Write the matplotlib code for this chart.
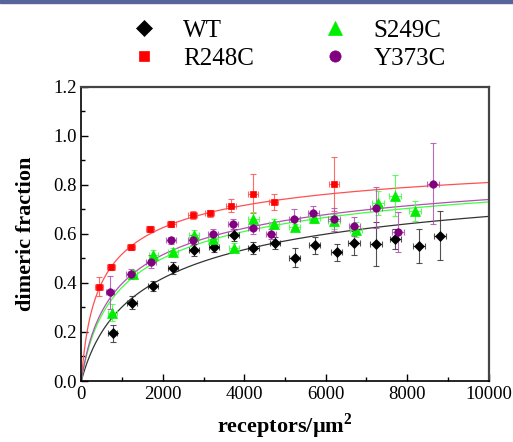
import numpy as np
import matplotlib
matplotlib.use('Agg')
import matplotlib.pyplot as plt
from matplotlib.patches import Rectangle
from matplotlib.ticker import MultipleLocator

plt.rcParams['font.family'] = 'Liberation Serif'
plt.rcParams['mathtext.fontset'] = 'custom'
plt.rcParams['mathtext.rm'] = 'Liberation Serif'
plt.rcParams['mathtext.bf'] = 'Liberation Serif:bold'

# WT
wt_x = [770, 1252, 1752, 2258, 2766, 3257, 3740, 4222, 4754, 5237, 5736, 6268, 6697, 7240, 7712, 8297, 8804]
wt_y = [0.195, 0.320, 0.387, 0.462, 0.535, 0.545, 0.595, 0.542, 0.562, 0.503, 0.553, 0.524, 0.563, 0.560, 0.580, 0.551, 0.593]
wt_yerr = [0.035, 0.025, 0.02, 0.025, 0.025, 0.02, 0.025, 0.025, 0.025, 0.04, 0.036, 0.036, 0.05, 0.09, 0.04, 0.07, 0.10]
wt_xerr = [115, 120, 120, 125, 125, 125, 130, 130, 130, 135, 135, 140, 140, 145, 145, 150, 155]

# R248C
r_x = [427, 729, 1220, 1690, 2205, 2734, 3150, 3675, 4222, 4720, 6203]
r_y = [0.385, 0.466, 0.545, 0.620, 0.640, 0.676, 0.683, 0.715, 0.764, 0.731, 0.805]
r_yerr = [0.037, 0.012, 0.01, 0.012, 0.012, 0.015, 0.015, 0.025, 0.078, 0.033, 0.11]
r_xerr = [100, 100, 102, 105, 110, 110, 115, 115, 120, 120, 130]

# S249C
s_x = [762, 1262, 1768, 2258, 2770, 3240, 3740, 4222, 4734, 5237, 5720, 6203, 6743, 7290, 7693, 8191]
s_y = [0.279, 0.437, 0.514, 0.526, 0.595, 0.578, 0.544, 0.662, 0.640, 0.627, 0.665, 0.651, 0.617, 0.726, 0.756, 0.694]
s_yerr = [0.035, 0.015, 0.02, 0.015, 0.02, 0.02, 0.02, 0.026, 0.02, 0.015, 0.02, 0.03, 0.03, 0.05, 0.083, 0.04]
s_xerr = [110, 115, 115, 120, 120, 125, 125, 130, 130, 135, 135, 140, 140, 145, 145, 150]

# Y373C
y_x = [704, 1212, 1711, 2210, 2734, 3240, 3722, 4222, 4660, 5225, 5690, 6206, 6705, 7234, 7778, 8640]
y_y = [0.361, 0.437, 0.487, 0.574, 0.574, 0.599, 0.640, 0.625, 0.600, 0.660, 0.685, 0.659, 0.630, 0.707, 0.607, 0.805]
y_yerr = [0.066, 0.02, 0.025, 0.015, 0.02, 0.02, 0.02, 0.025, 0.02, 0.04, 0.03, 0.048, 0.04, 0.085, 0.08, 0.167]
y_xerr = [110, 115, 115, 120, 120, 125, 125, 130, 130, 135, 135, 140, 140, 145, 145, 150]

# monomer-dimer fit constants (receptors/um^2)
kd_wt, kd_r, kd_s, kd_y = 3226, 900, 2000, 1830


def dimer_fraction(x, kd):
    return 1 - (np.sqrt(kd ** 2 + 8 * kd * x) - kd) / (4 * x)


fig = plt.figure(figsize=(5.13, 4.42), dpi=100)
ax = fig.add_axes([0.1585, 0.138, 0.794, 0.666])

series = [
    ('WT', wt_x, wt_y, wt_xerr, wt_yerr, kd_wt, 'black', '#333333', 'D', 5.6),
    ('R248C', r_x, r_y, r_xerr, r_yerr, kd_r, '#ff0000', '#ff5050', 's', 4.6),
    ('S249C', s_x, s_y, s_xerr, s_yerr, kd_s, '#00ee00', '#40ff40', '^', 6.8),
    ('Y373C', y_x, y_y, y_xerr, y_yerr, kd_y, '#800080', '#b050b0', 'o', 5.4),
]

xfit = np.linspace(1, 10000, 600)
handles = []
for name, xs, ys, xe, ye, kd, col, lcol, mk, ms in series:
    ax.plot(xfit, dimer_fraction(xfit, kd), color=lcol, lw=0.9, zorder=2)
    ax.errorbar(xs, ys, xerr=xe, yerr=ye, fmt='none', ecolor=lcol, elinewidth=0.8,
                capsize=2.5, capthick=0.8, alpha=0.85, zorder=3)
    h, = ax.plot(xs, ys, linestyle='none', marker=mk, markersize=ms, color=col,
                 markeredgecolor=col, markeredgewidth=0.5, label=name, zorder=4)
    handles.append(h)

ax.set_xlim(0, 10000)
ax.set_ylim(0, 1.2)
ax.xaxis.set_major_locator(MultipleLocator(2000))
ax.xaxis.set_minor_locator(MultipleLocator(1000))
ax.yaxis.set_major_locator(MultipleLocator(0.2))
ax.yaxis.set_minor_locator(MultipleLocator(0.1))
ax.yaxis.set_major_formatter(matplotlib.ticker.FormatStrFormatter('%.1f'))
ax.tick_params(which='both', direction='in', top=False, right=False, labelsize=13.5)
ax.tick_params(which='major', length=5, width=1)
ax.tick_params(which='minor', length=2.7, width=1)
for s in ['left', 'bottom']:
    ax.spines[s].set_linewidth(1.2)
for s in ['top', 'right']:
    ax.spines[s].set_linewidth(1.6)
    ax.spines[s].set_color('#444444')

ax.set_xlabel('receptors/µm$^\\mathbf{2}$', fontsize=16, fontweight='bold', labelpad=6)
ax.set_ylabel('dimeric fraction', fontsize=16, fontweight='bold', labelpad=12)

ax.legend(handles=handles, loc='lower center', bbox_to_anchor=(0.502, 0.998), ncol=2,
          frameon=False, fontsize=18, markerscale=1.5, handletextpad=0.8,
          columnspacing=2.5, labelspacing=0.22, borderpad=0.2, handlelength=1.5)

# dark border strip at the top of the image
fig.patches.append(Rectangle((0, 1 - 3 / 442), 1, 3 / 442, transform=fig.transFigure,
                             color='#56669a', zorder=10))

fig.savefig('out.png', dpi=100)
